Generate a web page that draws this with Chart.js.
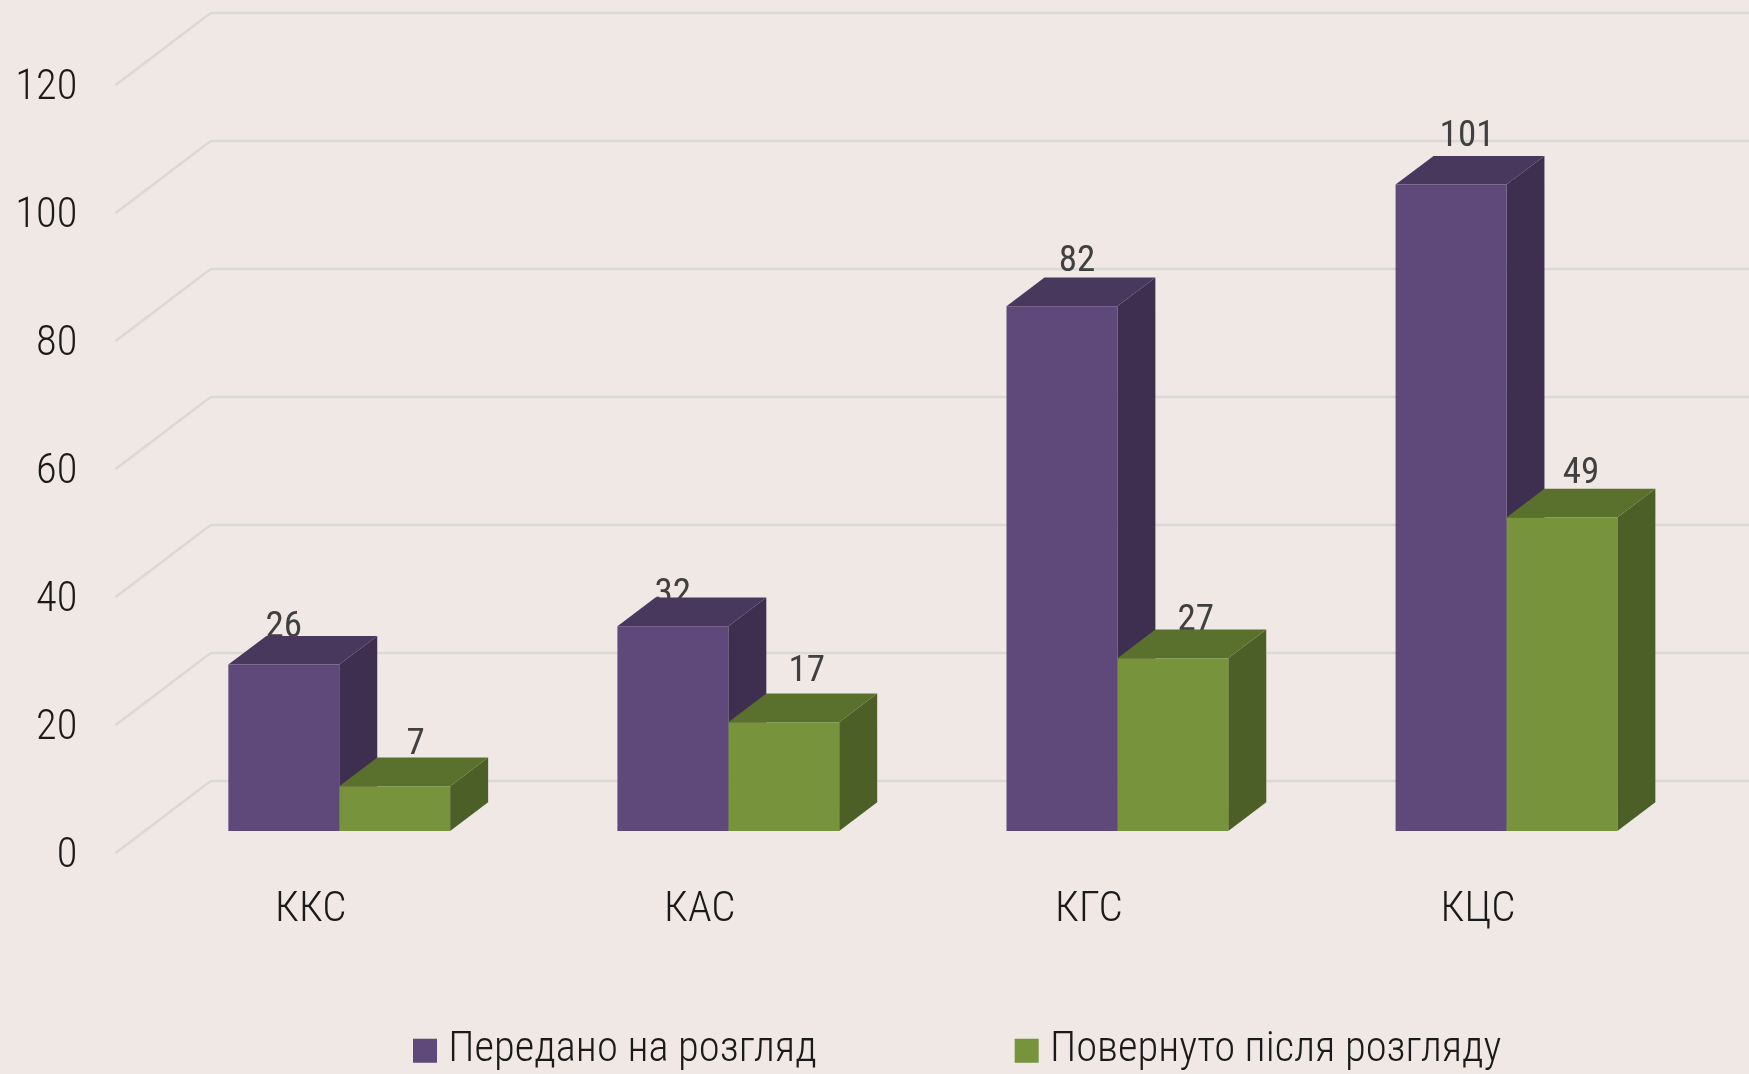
<!DOCTYPE html>
<html>
<head>
<meta charset="utf-8">
<style>html,body{margin:0;padding:0;background:#EFE8E5;overflow:hidden}canvas{display:block}</style>
<script src="https://cdn.jsdelivr.net/npm/chart.js@4"></script>
</head>
<body>
<canvas id="c" width="1749" height="1074"></canvas>
<script>
const categories = ['ККС', 'КАС', 'КГС', 'КЦС'];
const sentForReview = [26, 32, 82, 101];
const returnedAfterReview = [7, 17, 27, 49];
const seriesNames = ['Передано на розгляд', 'Повернуто після розгляду'];
const yTickStep = 20;
const yMax = 120;

const labelNudgeX = [[0, 0, 15, 16], [21, 23, 23, 19]];
const labelNudgeY = [[-37, -31, -44, -48], [-41, -50, -37, -44]];

const frontColors = ['#5F497A', '#77933C'];
const topColors = ['#49385D', '#5A702D'];
const sideColors = ['#3E2F50', '#4C5F27'];
const family = 'Roboto, "Liberation Sans Narrow", sans-serif';
const W = 1749, H = 1074;
const DEPTH_X = 38, DEPTH_Y = 28.7;
const WALL_X = 210.7, WALL_DY = -50, FLOOR_X = 115.3, FLOOR_DY = 22.3;

function poly(ctx, pts, color) {
  ctx.beginPath();
  pts.forEach((p, i) => i ? ctx.lineTo(p[0], p[1]) : ctx.moveTo(p[0], p[1]));
  ctx.closePath();
  ctx.fillStyle = color;
  ctx.fill();
}

const bar3d = {
  id: 'bar3d',
  beforeDraw(chart) {
    const {ctx} = chart;
    ctx.save();
    ctx.fillStyle = '#EFE8E5';
    ctx.fillRect(0, 0, W, H);
    ctx.restore();
  },
  afterLayout(chart) {
    const lg = chart.legend;
    const pad = 208;
    lg.left = 423 - pad;
    lg.right = W + 400;
    lg.top = 1055.5 - pad - 26;
    lg.bottom = H;
  },
  beforeDatasetsDraw(chart) {
    const {ctx} = chart;
    const y = chart.scales.y;
    ctx.save();
    ctx.strokeStyle = '#DAD9D5';
    ctx.lineWidth = 2.5;
    ctx.lineJoin = 'round';
    y.ticks.forEach(t => {
      const p = y.getPixelForValue(t.value);
      ctx.beginPath();
      ctx.moveTo(FLOOR_X, p + FLOOR_DY);
      ctx.lineTo(WALL_X, p + WALL_DY);
      ctx.lineTo(W, p + WALL_DY);
      ctx.stroke();
    });
    ctx.fillStyle = '#404040';
    ctx.font = '400 condensed 37px ' + family;
    ctx.textAlign = 'center';
    ctx.textBaseline = 'middle';
    chart.data.datasets.forEach((ds, d) => {
      chart.getDatasetMeta(d).data.forEach((b, i) => {
        ctx.fillText(String(ds.data[i]), b.x + labelNudgeX[d][i], b.y + labelNudgeY[d][i]);
      });
    });
    chart.data.datasets.forEach((ds, d) => {
      chart.getDatasetMeta(d).data.forEach(b => {
        const L = b.x - b.width / 2, R = b.x + b.width / 2, T = b.y, B = b.base;
        poly(ctx, [[R, T], [R + DEPTH_X, T - DEPTH_Y], [R + DEPTH_X, B - DEPTH_Y], [R, B]], sideColors[d]);
        poly(ctx, [[L, T], [L + DEPTH_X, T - DEPTH_Y], [R + DEPTH_X, T - DEPTH_Y], [R, T]], topColors[d]);
      });
    });
    ctx.restore();
  }
};

new Chart(document.getElementById('c'), {
  type: 'bar',
  plugins: [bar3d],
  data: {
    labels: categories,
    datasets: [
      {label: seriesNames[0], data: sentForReview, backgroundColor: frontColors[0], borderWidth: 0},
      {label: seriesNames[1], data: returnedAfterReview, backgroundColor: frontColors[1], borderWidth: 0}
    ]
  },
  options: {
    responsive: false,
    animation: false,
    layout: {padding: {top: 63, right: 48, left: 0, bottom: 0}},
    datasets: {bar: {categoryPercentage: 0.570, barPercentage: 1}},
    scales: {
      x: {
        grid: {display: false, drawTicks: false},
        border: {display: false},
        afterFit(s) { s.height = 243 - s.chart.legend.height; s.paddingLeft = 0; s.paddingRight = 0; },
        ticks: {
          color: '#1A1A1A',
          font: {family, size: 43, weight: '300 condensed'},
          labelOffset: -28.5,
          padding: 53.5,
          maxRotation: 0,
          autoSkip: false
        }
      },
      y: {
        min: 0,
        max: yMax,
        grid: {display: false, drawTicks: false},
        border: {display: false},
        afterFit(s) { s.width = 144.7; s.paddingTop = 0; s.paddingBottom = 0; },
        ticks: {
          stepSize: yTickStep,
          color: '#1A1A1A',
          font: {family, size: 42.5, weight: '300 condensed'},
          labelOffset: 25.8,
          padding: 67.4
        }
      }
    },
    plugins: {
      tooltip: {enabled: false},
      legend: {
        position: 'bottom',
        align: 'start',
        maxHeight: 60,
        labels: {
          boxWidth: 4,
          boxHeight: 4,
          padding: 208,
          color: '#1A1A1A',
          font: {family, size: 42.6, weight: '300 condensed', lineHeight: 1.2},
          generateLabels(chart) {
            return chart.data.datasets.map((ds, i) => ({
              text: ds.label,
              fillStyle: frontColors[i],
              strokeStyle: frontColors[i],
              lineWidth: 20,
              lineJoin: 'miter',
              fontColor: '#1A1A1A',
              datasetIndex: i
            }));
          }
        }
      }
    }
  }
});
</script>
</body>
</html>
